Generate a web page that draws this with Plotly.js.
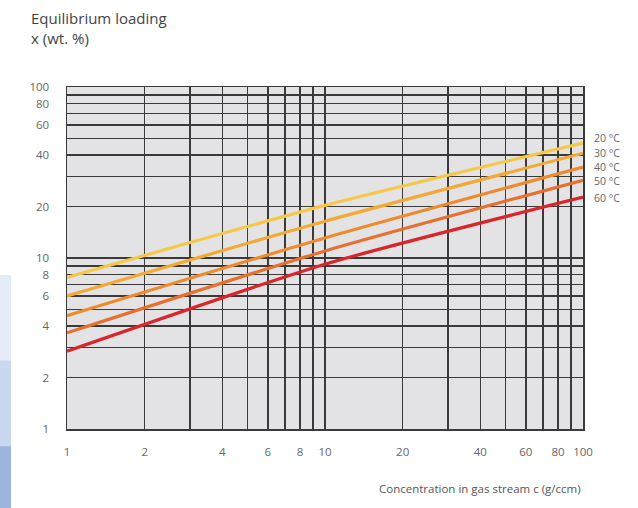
<!DOCTYPE html>
<html>
<head>
<meta charset="utf-8">
<script src="https://cdn.plot.ly/plotly-3.0.1.min.js"></script>
<style>
html,body{margin:0;padding:0;background:#fff;}
#chart{width:638px;height:508px;}
</style>
</head>
<body>
<div id="chart"></div>
<script>
// Data
const concentration = [1, 10, 100];
const series = ["20 °C", "30 °C", "40 °C", "50 °C", "60 °C"];
const load20 = [7.7, 20.3, 47];
const load30 = [6.0, 16.4, 41];
const load40 = [4.6, 13.1, 34];
const load50 = [3.65, 11.0, 28.5];
const load60 = [2.85, 9.2, 22.7];
const colors = ["#f5c84a", "#f2aa34", "#ef8b2d", "#e8702f", "#d9262b"];

const xTickVals = [1, 2, 4, 6, 8, 10, 20, 40, 60, 80, 100];
const xTickText = ["1", "2", "4", "6", "8", "10", "20", "40", "60", "80", "100"];
const xMinorVals = [3, 5, 7, 9, 30, 50, 70, 90];
const yTickVals = [1, 2, 4, 6, 8, 10, 20, 40, 60, 80, 100];
const yTickText = ["1", "2", "4", "6", "8", "10", "20", "40", "60", "80", "100"];
const yMinorVals = [3, 5, 7, 9, 30, 50, 70, 90];

const allY = [load20, load30, load40, load50, load60];

const traces = allY.map((ys, i) => ({
  x: concentration,
  y: ys,
  type: "scatter",
  mode: "lines",
  name: series[i],
  line: {color: colors[i], width: 3.2, shape: "spline", smoothing: 0.6},
  hoverinfo: "skip"
}));

const gridCol = "#3a3a3a";
const tickFont = {family: "Open Sans, DejaVu Sans, sans-serif", size: 11.5, color: "#666"};

// label placement (paper fractions of the plot height), spread so they don't collide
const labelPos = [0.850, 0.808, 0.766, 0.724, 0.675];
const annotations = series.map((s, i) => ({
  xref: "paper", yref: "paper",
  x: 1, y: labelPos[i],
  xanchor: "left", yanchor: "middle",
  xshift: 10, borderpad: 0,
  text: s,
  showarrow: false,
  font: {family: "Open Sans, DejaVu Sans, sans-serif", size: 10.5, color: "#666"}
}));

annotations.push({
  xref: "paper", yref: "paper",
  x: 1, y: 0, yshift: -59,
  xanchor: "right", yanchor: "middle",
  text: "Concentration in gas stream c (g/ccm)",
  showarrow: false,
  font: {family: "Open Sans, DejaVu Sans, sans-serif", size: 11.5, color: "#555"}
});

annotations.push({
  xref: "paper", yref: "paper",
  x: 0, xshift: -38, y: 1, yshift: 37,
  xanchor: "left", yanchor: "bottom", align: "left",
  text: "Equilibrium loading<br>x (wt. %)",
  showarrow: false,
  font: {family: "Open Sans, DejaVu Sans, sans-serif", size: 15, color: "#444"}
});

const shapes = [
  {type: "rect", xref: "paper", yref: "paper", x0: -67/516, x1: -56/516, y0: 0.2, y1: 0.45, fillcolor: "rgba(150,175,225,0.25)", line: {width: 0}, layer: "below"},
  {type: "rect", xref: "paper", yref: "paper", x0: -67/516, x1: -56/516, y0: -0.05, y1: 0.2, fillcolor: "rgba(120,155,215,0.4)", line: {width: 0}, layer: "below"},
  {type: "rect", xref: "paper", yref: "paper", x0: -67/516, x1: -56/516, y0: -79/342, y1: -0.05, fillcolor: "rgba(90,130,200,0.6)", line: {width: 0}, layer: "below"}
];

const layout = {
  width: 638, height: 508,
  margin: {l: 67, r: 55, t: 87, b: 79},
  paper_bgcolor: "#ffffff",
  plot_bgcolor: "#e3e3e6",
  showlegend: false,
  xaxis: {
    type: "log", range: [0, 2],
    tickmode: "array", tickvals: xTickVals, ticktext: xTickText,
    showgrid: true, gridcolor: gridCol, gridwidth: 1.5,
    minor: {tickmode: "array", tickvals: xMinorVals, showgrid: true, gridcolor: gridCol, gridwidth: 1.5},
    ticks: "", ticklabelstandoff: 12,
    tickfont: tickFont,
    showline: true, linecolor: gridCol, linewidth: 1.5, mirror: true,
    zeroline: false, fixedrange: true
  },
  yaxis: {
    type: "log", range: [0, 2],
    tickmode: "array", tickvals: yTickVals, ticktext: yTickText,
    showgrid: true, gridcolor: gridCol, gridwidth: 1.5,
    minor: {tickmode: "array", tickvals: yMinorVals, showgrid: true, gridcolor: gridCol, gridwidth: 1.5},
    ticks: "", ticklabelstandoff: 14,
    tickfont: tickFont,
    showline: true, linecolor: gridCol, linewidth: 1.5, mirror: true,
    zeroline: false, fixedrange: true
  },
  annotations: annotations,
  shapes: shapes
};

Plotly.newPlot("chart", traces, layout, {displayModeBar: false, staticPlot: true});
</script>
</body>
</html>
